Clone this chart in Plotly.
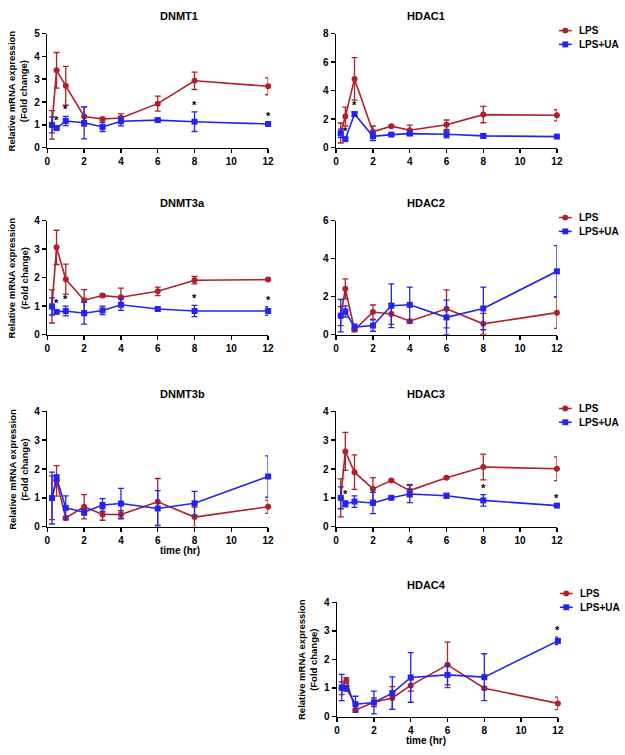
import plotly.graph_objects as go

time = [0.25, 0.5, 1, 2, 3, 4, 6, 8, 12]

# DNMT1
dnmt1_lps = [1.0, 3.39, 2.71, 1.37, 1.26, 1.30, 1.93, 2.93, 2.69]
dnmt1_lps_err = [0.62, 0.78, 0.85, 0.42, 0.06, 0.18, 0.33, 0.38, 0.37]
dnmt1_ua = [1.0, 0.86, 1.17, 1.09, 0.91, 1.16, 1.21, 1.14, 1.04]
dnmt1_ua_err = [0.35, 0.05, 0.2, 0.7, 0.2, 0.2, 0.05, 0.43, 0.05]
dnmt1_sig = [0.5, 1, 8, 12]

# HDAC1
hdac1_lps = [1.03, 2.18, 4.82, 1.12, 1.51, 1.22, 1.61, 2.32, 2.27]
hdac1_lps_err = [0.7, 0.66, 1.49, 0.4, 0.05, 0.36, 0.33, 0.57, 0.39]
hdac1_ua = [1.0, 0.6, 2.36, 0.8, 0.92, 0.99, 0.94, 0.83, 0.78]
hdac1_ua_err = [0.3, 0.05, 0.15, 0.3, 0.08, 0.1, 0.25, 0.15, 0.05]
hdac1_sig = [0.5, 1]

# DNMT3a
dnmt3a_lps = [0.99, 3.06, 1.94, 1.21, 1.37, 1.31, 1.52, 1.91, 1.93]
dnmt3a_lps_err = [0.58, 0.6, 0.53, 0.37, 0.05, 0.32, 0.15, 0.13, 0.02]
dnmt3a_ua = [0.99, 0.8, 0.83, 0.75, 0.85, 1.05, 0.9, 0.83, 0.83]
dnmt3a_ua_err = [0.3, 0.05, 0.17, 0.38, 0.15, 0.2, 0.03, 0.2, 0.15]
dnmt3a_sig = [0.5, 1, 8, 12]

# HDAC2
hdac2_lps = [0.98, 2.41, 0.26, 1.19, 1.09, 0.71, 1.36, 0.57, 1.16]
hdac2_lps_err = [0.5, 0.52, 0.1, 0.37, 0.55, 0.1, 1.0, 0.55, 0.83]
hdac2_ua = [1.0, 1.22, 0.4, 0.48, 1.52, 1.57, 0.91, 1.38, 3.33]
hdac2_ua_err = [0.85, 0.3, 0.15, 0.3, 1.15, 0.93, 0.91, 1.12, 1.35]
hdac2_sig = []

# DNMT3b
dnmt3b_lps = [1.0, 1.59, 0.3, 0.69, 0.42, 0.42, 0.86, 0.33, 0.69]
dnmt3b_lps_err = [0.76, 0.53, 0.05, 0.42, 0.2, 0.13, 0.81, 0.35, 0.23]
dnmt3b_ua = [0.99, 1.7, 0.65, 0.5, 0.75, 0.8, 0.63, 0.81, 1.74]
dnmt3b_ua_err = [0.9, 0.1, 0.42, 0.1, 0.22, 0.53, 0.62, 0.41, 0.72]
dnmt3b_sig = []

# HDAC3
hdac3_lps = [1.0, 2.61, 1.89, 1.31, 1.6, 1.25, 1.7, 2.07, 2.01]
hdac3_lps_err = [0.66, 0.66, 0.6, 0.39, 0.03, 0.22, 0.03, 0.45, 0.41]
hdac3_ua = [1.0, 0.79, 0.87, 0.82, 1.0, 1.13, 1.07, 0.91, 0.73]
hdac3_ua_err = [0.38, 0.1, 0.2, 0.37, 0.03, 0.3, 0.08, 0.2, 0.03]
hdac3_sig = [0.5, 8, 12]

# HDAC4
hdac4_lps = [0.99, 1.26, 0.23, 0.5, 0.65, 1.09, 1.81, 0.99, 0.46]
hdac4_lps_err = [0.22, 0.1, 0.03, 0.15, 0.4, 0.2, 0.8, 0.05, 0.22]
hdac4_ua = [1.02, 0.99, 0.43, 0.49, 0.82, 1.37, 1.46, 1.38, 2.65]
hdac4_ua_err = [0.46, 0.1, 0.28, 0.4, 0.57, 0.87, 0.35, 0.82, 0.13]
hdac4_sig = [12]

series_names = ["LPS", "LPS+UA"]

RED = "#B0202A"
BLUE = "#2424F0"
FONT = "Liberation Sans"

W, H = 625, 755

def px(x):
    return x / W

def py(y):
    return 1 - y / H

panels = [
    # name, lps, lpserr, ua, uaerr, sig, ymax, dtick, x0, x1, ytop, ybot, ytitle, xtitle, legend
    ("DNMT1", dnmt1_lps, dnmt1_lps_err, dnmt1_ua, dnmt1_ua_err, dnmt1_sig, 5, 1, 45, 269, 28, 144, True, False, False),
    ("HDAC1", hdac1_lps, hdac1_lps_err, hdac1_ua, hdac1_ua_err, hdac1_sig, 8, 2, 338, 562, 28, 144, False, False, True),
    ("DNMT3a", dnmt3a_lps, dnmt3a_lps_err, dnmt3a_ua, dnmt3a_ua_err, dnmt3a_sig, 4, 1, 45, 269, 218, 334, True, False, False),
    ("HDAC2", hdac2_lps, hdac2_lps_err, hdac2_ua, hdac2_ua_err, hdac2_sig, 6, 2, 338, 562, 218, 334, False, False, True),
    ("DNMT3b", dnmt3b_lps, dnmt3b_lps_err, dnmt3b_ua, dnmt3b_ua_err, dnmt3b_sig, 4, 1, 45, 269, 412, 529, True, True, False),
    ("HDAC3", hdac3_lps, hdac3_lps_err, hdac3_ua, hdac3_ua_err, hdac3_sig, 4, 1, 338, 562, 412, 529, False, False, True),
    ("HDAC4", hdac4_lps, hdac4_lps_err, hdac4_ua, hdac4_ua_err, hdac4_sig, 4, 1, 339, 563, 606, 722, True, True, True),
]

fig = go.Figure()
annotations = []
shapes = []
layout_axes = {}

for i, (name, lps, lpse, ua, uae, sig, ymax, dt, x0, x1, yt, yb, ytit, xtit, leg) in enumerate(panels):
    n = i + 1
    xa = "x" if n == 1 else f"x{n}"
    ya = "y" if n == 1 else f"y{n}"
    xkey = "xaxis" if n == 1 else f"xaxis{n}"
    ykey = "yaxis" if n == 1 else f"yaxis{n}"
    common = dict(showline=True, linecolor="black", linewidth=1.5, ticks="outside",
                  ticklen=4, tickwidth=1.5, tickcolor="black", showgrid=False, zeroline=False,
                  tickfont=dict(family=FONT, size=10, color="black", weight="bold"))
    layout_axes[xkey] = dict(domain=[px(x0), px(x1)], range=[0, 12], tick0=0, dtick=2,
                             anchor=ya, **common)
    layout_axes[ykey] = dict(domain=[py(yb), py(yt)], range=[0, ymax], tick0=0, dtick=dt,
                             anchor=xa, **common)
    for vals, errs, col, sym, label in [(lps, lpse, RED, "circle", series_names[0]),
                                        (ua, uae, BLUE, "square", series_names[1])]:
        fig.add_trace(go.Scatter(x=time, y=vals, mode="lines+markers", name=label, xaxis=xa, yaxis=ya,
                                 line=dict(color=col, width=1.6),
                                 marker=dict(color=col, symbol=sym, size=6),
                                 error_y=dict(type="data", array=errs, visible=True, color=col,
                                              thickness=1.3, width=3),
                                 cliponaxis=False, showlegend=False))
    # significance asterisks
    for s in sig:
        k = time.index(s)
        annotations.append(dict(x=s, y=ua[k] + uae[k], xref=xa, yref=ya, text="*", showarrow=False,
                                yanchor="bottom", yshift=-1,
                                font=dict(family=FONT, size=11, color="black", weight="bold")))
    # title
    annotations.append(dict(x=px((x0 + x1) / 2), y=py(yt - 18), xref="paper", yref="paper", text=name,
                            showarrow=False, yanchor="middle",
                            font=dict(family=FONT, size=11, color="black", weight="bold")))
    if ytit:
        xc = 15 if x0 < 100 else 309
        annotations.append(dict(x=px(xc), y=py((yt + yb) / 2), xref="paper", yref="paper",
                                text="Relative mRNA expression<br>(Fold change)", textangle=-90,
                                showarrow=False, xanchor="center", yanchor="middle",
                                font=dict(family=FONT, size=9.5, color="black", weight="bold")))
    if xtit:
        annotations.append(dict(x=px((x0 + x1) / 2), y=py(yb + 24), xref="paper", yref="paper",
                                text="time (hr)", showarrow=False, yanchor="middle",
                                font=dict(family=FONT, size=10, color="black", weight="bold")))
    if leg:
        for j, (col, sym) in enumerate([(RED, "circle"), (BLUE, "square")]):
            ly = yt - 1 + 14 * j - (2 if n < 7 else 8)
            lx0, lx1 = x1 + 2, x1 + 15
            shapes.append(dict(type="line", xref="paper", yref="paper", x0=px(lx0), x1=px(lx1),
                               y0=py(ly), y1=py(ly), line=dict(color=col, width=1.6)))
            cx = (lx0 + lx1) / 2
            shapes.append(dict(type="circle" if sym == "circle" else "rect", xref="paper", yref="paper",
                               x0=px(cx - 3), x1=px(cx + 3), y0=py(ly - 3), y1=py(ly + 3),
                               fillcolor=col, line=dict(color=col, width=0)))
            annotations.append(dict(x=px(lx1 + 5), y=py(ly), xref="paper", yref="paper",
                                    text=series_names[j], showarrow=False, xanchor="left", yanchor="middle",
                                    font=dict(family=FONT, size=10, color="black", weight="bold")))

fig.update_layout(width=W, height=H, margin=dict(l=0, r=0, t=0, b=0),
                  paper_bgcolor="white", plot_bgcolor="white", showlegend=False,
                  annotations=annotations, shapes=shapes, **layout_axes)

fig.write_html("out.html", config={"displayModeBar": False, "staticPlot": True},
               post_script="document.body.style.margin='0';document.body.style.overflow='hidden';")
